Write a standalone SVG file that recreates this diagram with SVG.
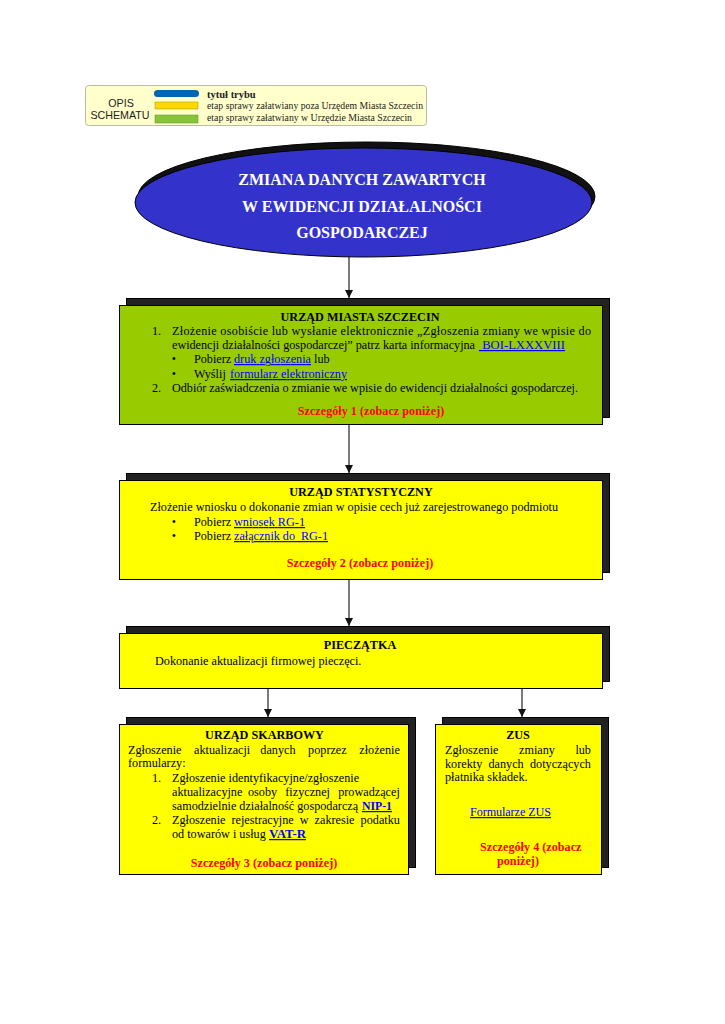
<svg xmlns="http://www.w3.org/2000/svg" width="725" height="1024" viewBox="0 0 725 1024">
<style>
.t{font-family:"Liberation Serif","Times New Roman",serif;font-size:12.2px;fill:#000}
.b{font-weight:bold}
.c{text-anchor:middle}
.red{fill:#FF0000;font-weight:bold}
.lnk{fill:#0000FF;text-decoration:underline}
.sh{fill:#222;stroke:#000;stroke-width:1}
.box{stroke:#000;stroke-width:1}
.g{fill:#99CC00}
.y{fill:#FFFF00}
.con{stroke:#222;stroke-width:1.2;fill:none;marker-end:url(#ah)}
.leg{font-family:"Liberation Sans",Arial,sans-serif;font-size:10.7px;fill:#222}
.legs{font-family:"Liberation Serif","Times New Roman",serif;font-size:10.5px;fill:#222}
.ttl{font-family:"Liberation Serif","Times New Roman",serif;font-weight:bold;font-size:16px;fill:#fff;text-anchor:middle}
</style>
<defs>
<marker id="ah" markerUnits="userSpaceOnUse" markerWidth="9" markerHeight="9" refX="8" refY="4" orient="auto">
<path d="M0,0 L8,4 L0,8 Z" fill="#111"/>
</marker>
</defs>
<rect width="725" height="1024" fill="#fff"/>

<g id="legend">
<rect x="85.5" y="85.5" width="341" height="40" rx="3" fill="#FFFFCC" stroke="#BBBBAA"/>
<text class="leg c" x="121" y="107">OPIS</text>
<text class="leg c" x="120" y="119">SCHEMATU</text>
<rect x="154" y="90" width="45" height="7" rx="3.5" fill="#0066B3"/>
<rect x="155" y="102" width="43" height="7" fill="#FFD800" stroke="#9a8a30" stroke-width="0.5"/>
<rect x="155" y="115" width="43" height="8" fill="#88C43A" stroke="#5a8a30" stroke-width="0.5"/>
<text class="legs b" x="207" y="98">tytuł trybu</text>
<text class="legs" x="207" y="109" textLength="216" lengthAdjust="spacingAndGlyphs">etap sprawy załatwiany poza Urzędem Miasta Szczecin</text>
<text class="legs" x="207" y="121" textLength="205" lengthAdjust="spacingAndGlyphs">etap sprawy załatwiany w Urzędzie Miasta Szczecin</text>
</g>

<g id="connectors">
<line class="con" x1="349" y1="257" x2="349" y2="298"/>
<line class="con" x1="349" y1="424" x2="349" y2="473"/>
<line class="con" x1="349" y1="579" x2="349" y2="626"/>
<line class="con" x1="268" y1="688" x2="268" y2="717"/>
<line class="con" x1="522" y1="688" x2="522" y2="717"/>
</g>

<g id="title">
<ellipse cx="366.5" cy="196.5" rx="228.5" ry="54.5" fill="#111" stroke="#000"/>
<ellipse cx="363.5" cy="202.5" rx="228.5" ry="54.5" fill="#3333CC" stroke="#000"/>
<text class="ttl" x="362" y="185">ZMIANA DANYCH ZAWARTYCH</text>
<text class="ttl" x="362" y="212">W EWIDENCJI DZIAŁALNOŚCI</text>
<text class="ttl" x="362" y="238">GOSPODARCZEJ</text>
</g>

<g id="urzad-miasta">
<rect class="sh" x="126.5" y="298.5" width="483" height="119"/>
<rect class="box g" x="119.5" y="305.5" width="483" height="119"/>
<text class="t b c" x="360" y="321">URZĄD MIASTA SZCZECIN</text>
<text class="t" x="152" y="335">1.</text>
<text class="t" x="172" y="335" textLength="419" lengthAdjust="spacing">Złożenie osobiście lub wysłanie elektronicznie „Zgłoszenia zmiany we wpisie do</text>
<text class="t" x="172" y="349" textLength="303" lengthAdjust="spacing">ewidencji działalności gospodarczej” patrz karta informacyjna</text>
<text class="t lnk" x="479" y="349" textLength="86" lengthAdjust="spacingAndGlyphs">&#160;BOI-LXXXVIII</text>
<text class="t c" x="174" y="363">•</text>
<text class="t" x="194" y="363">Pobierz</text>
<text class="t lnk" x="234" y="363" textLength="77" lengthAdjust="spacing">druk zgłoszenia</text>
<text class="t" x="314" y="363">lub</text>
<text class="t c" x="174" y="378">•</text>
<text class="t" x="194" y="378">Wyślij</text>
<text class="t lnk" x="230" y="378" textLength="117" lengthAdjust="spacing">formularz elektroniczny</text>
<text class="t" x="152" y="392">2.</text>
<text class="t" x="172" y="392" textLength="406" lengthAdjust="spacing">Odbiór zaświadczenia o zmianie we wpisie do ewidencji działalności gospodarczej.</text>
<text class="t red c" x="371" y="415">Szczegóły 1 (zobacz poniżej)</text>
</g>

<g id="urzad-statystyczny">
<rect class="sh" x="126.5" y="473.5" width="483" height="99"/>
<rect class="box y" x="119.5" y="480.5" width="483" height="99"/>
<text class="t b c" x="361" y="496">URZĄD STATYSTYCZNY</text>
<text class="t" x="150" y="511" textLength="408" lengthAdjust="spacing">Złożenie wniosku o dokonanie zmian w opisie cech już zarejestrowanego podmiotu</text>
<text class="t c" x="174" y="526">•</text>
<text class="t" x="194" y="526">Pobierz</text>
<text class="t lnk" x="234" y="526" textLength="71" lengthAdjust="spacing">wniosek RG-1</text>
<text class="t c" x="174" y="540">•</text>
<text class="t" x="194" y="540">Pobierz</text>
<text class="t lnk" x="234" y="540" textLength="94" lengthAdjust="spacing">załącznik do&#160; RG-1</text>
<text class="t red c" x="360" y="567">Szczegóły 2 (zobacz poniżej)</text>
</g>

<g id="pieczatka">
<rect class="sh" x="126.5" y="626.5" width="483" height="55"/>
<rect class="box y" x="119.5" y="633.5" width="483" height="55"/>
<text class="t b c" x="360" y="649">PIECZĄTKA</text>
<text class="t" x="155" y="665">Dokonanie aktualizacji firmowej pieczęci.</text>
</g>

<g id="urzad-skarbowy">
<rect class="sh" x="126.5" y="717.5" width="289" height="150"/>
<rect class="box y" x="119.5" y="724.5" width="289" height="150"/>
<text class="t b c" x="264.5" y="739">URZĄD SKARBOWY</text>
<text class="t" y="754"><tspan x="128">Zgłoszenie</tspan><tspan x="194.1">aktualizacji</tspan><tspan x="260.3">danych</tspan><tspan x="308.1">poprzez</tspan><tspan x="359.3">złożenie</tspan></text>
<text class="t" x="128" y="767">formularzy:</text>
<text class="t" x="152" y="782">1.</text>
<text class="t" x="172" y="782">Zgłoszenie identyfikacyjne/zgłoszenie</text>
<text class="t" y="796"><tspan x="172">aktualizacyjne</tspan><tspan x="248">osoby</tspan><tspan x="285.3">fizycznej</tspan><tspan x="338.2">prowadzącej</tspan></text>
<text class="t" x="172" y="810">samodzielnie działalność gospodarczą</text>
<text class="t lnk b" x="362" y="810" textLength="30" lengthAdjust="spacingAndGlyphs">NIP-1</text>
<text class="t" x="152" y="824">2.</text>
<text class="t" y="824"><tspan x="172">Zgłoszenie</tspan><tspan x="231.5">rejestracyjne</tspan><tspan x="299.8">w</tspan><tspan x="314.6">zakresie</tspan><tspan x="360.6">podatku</tspan></text>
<text class="t" x="172" y="838">od towarów i usług</text>
<text class="t lnk b" x="269" y="838" textLength="37" lengthAdjust="spacingAndGlyphs">VAT-R</text>
<text class="t red c" x="264" y="867">Szczegóły 3 (zobacz poniżej)</text>
</g>

<g id="zus">
<rect class="sh" x="442.5" y="717.5" width="166" height="150"/>
<rect class="box y" x="435.5" y="724.5" width="166" height="150"/>
<text class="t b c" x="518" y="739">ZUS</text>
<text class="t" y="754"><tspan x="445">Zgłoszenie</tspan><tspan x="519">zmiany</tspan><tspan x="575.4">lub</tspan></text>
<text class="t" y="768"><tspan x="445">korekty</tspan><tspan x="488.5">danych</tspan><tspan x="530">dotyczących</tspan></text>
<text class="t" x="445" y="781">płatnika składek.</text>
<text class="t lnk" x="470" y="816" textLength="81" lengthAdjust="spacing">Formularze ZUS</text>
<text class="t red" x="480" y="851">Szczegóły 4 (zobacz</text>
<text class="t red" x="497" y="865">poniżej)</text>
</g>
</svg>
